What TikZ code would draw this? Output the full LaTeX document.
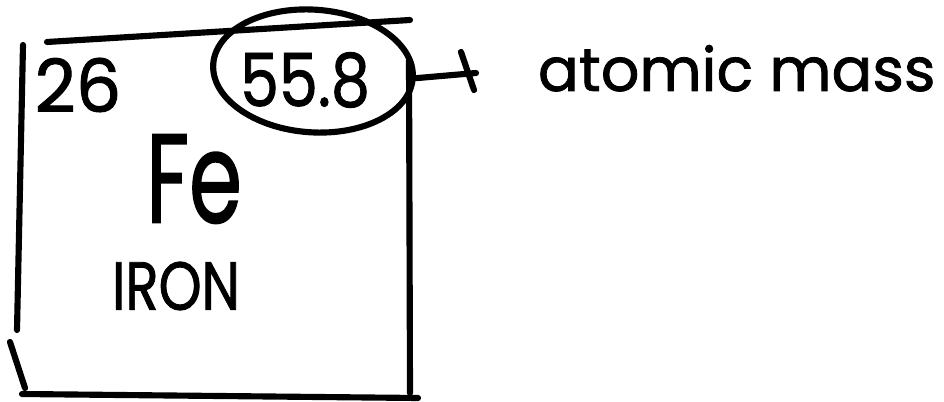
\documentclass[tikz,border=0pt]{standalone}
\usepackage{fontspec}
\newfontfamily\inkfont{Poppins}[FakeBold=1.3]
\usetikzlibrary{shapes.geometric}
\begin{document}
\begin{tikzpicture}[x=0.75pt, y=-0.75pt,
  pen/.style={line width=4.6pt, line cap=round, line join=round},
  inkText/.style={inner sep=0pt, outer sep=0pt, anchor=center, font=\inkfont},
  ring/.style={pen, draw, ellipse, inner sep=0pt,
    minimum width=150pt, minimum height=92pt}]
\useasboundingbox (0,0) rectangle (944,402);

% element tile, drawn as four loose strokes
\draw[pen] (47,42) -- (410,20);
\draw[pen] (23,45) -- (17,330);
\draw[pen] (10,342) -- (25,388);
\draw[pen] (22,394) -- (418,398);
\draw[pen] (409,60) -- (410,393);

% tile contents
\node[inkText] (number) at (78,85) {\resizebox{65pt}{40.5pt}{26}};
\node[inkText] (mass) at (305,80) {\resizebox{97.5pt}{40.5pt}{55.8}};
\node[inkText] (symbol) at (194,179) {\resizebox{72pt}{66pt}{Fe}};
\node[inkText] (name) at (176,286) {\resizebox{96pt}{36pt}{IRON}};

% circled atomic mass and its label
\node[ring, rotate=-4] (circle) at (313,71) {};
\coordinate (tip) at (476,73);
\draw[pen] (circle.east) -- (tip);
\draw[pen] (tip) ++(-15,-21) -- ++(13,38);
\node[inkText, anchor=base west] (label) at (538,91)
  {\resizebox{298pt}{!}{atomic mass}};
\end{tikzpicture}
\end{document}
